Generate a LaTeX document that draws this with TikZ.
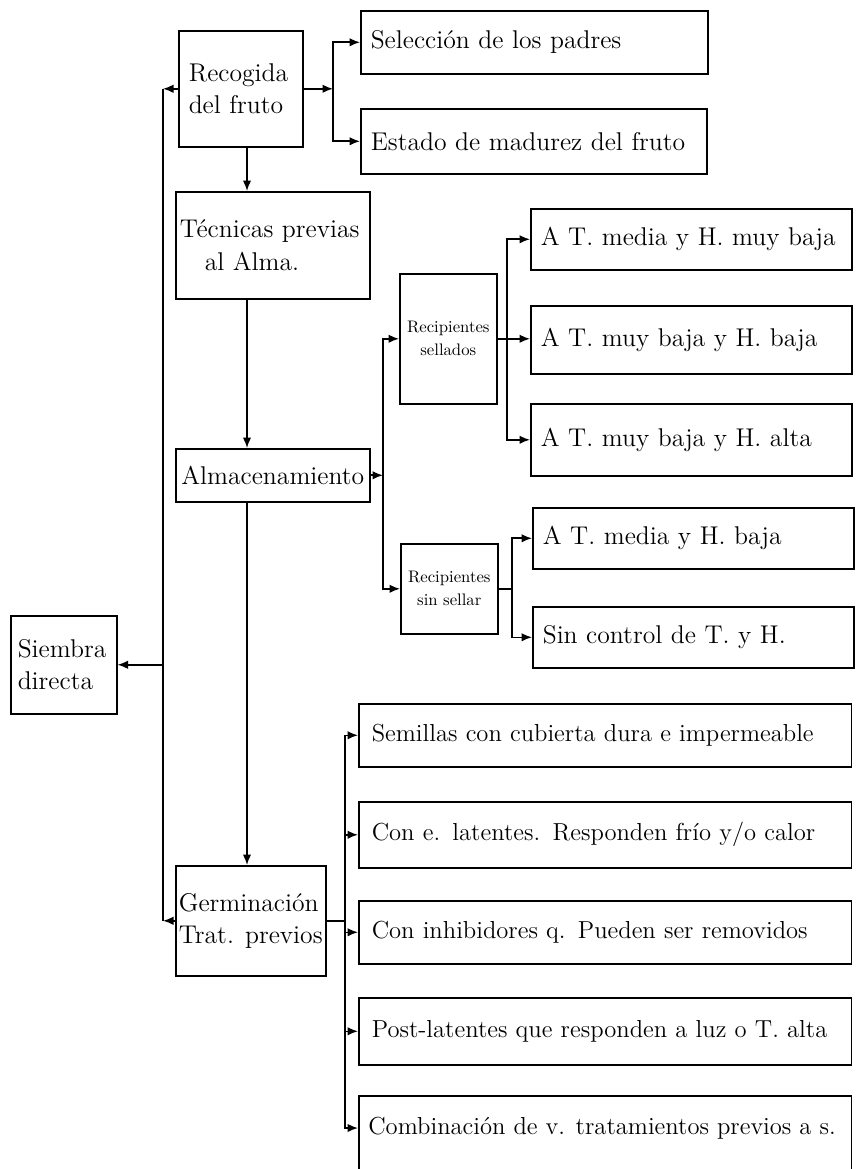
\documentclass[tikz,border=0pt]{standalone}
\usetikzlibrary{arrows.meta}

\newcommand{\boxfont}{\fontsize{14.6}{18.5}\selectfont}
\newcommand{\tratfont}{\fontsize{14}{17}\selectfont}
\newcommand{\recfont}{\fontsize{9.5}{13}\selectfont}

\tikzset{
  box/.style={draw, line width=0.9pt, anchor=north west, inner xsep=0.2cm, inner ysep=0pt, align=left, font=\boxfont},
  smallbox/.style={box, align=center, font=\recfont},
  tratbox/.style={box, minimum width=9.86cm, text width=9.34cm, inner xsep=0.26cm, font=\tratfont},
  arr/.style={-{Latex[length=2.1mm,width=1.7mm]}, line width=0.9pt},
  ln/.style={line width=0.9pt},
}

\begin{document}
\begin{tikzpicture}[x=0.02cm, y=-0.02cm]
  \useasboundingbox (0,0) rectangle (860,1169);

  % main column
  \node[box, minimum width=2.48cm, minimum height=2.32cm, text width=2.08cm] (rec) at (178,30) {Recogida\\del fruto};
  \node[box, minimum width=3.88cm, minimum height=2.14cm, text width=3.72cm, inner xsep=0.08cm] (tec) at (175,191) {T\'ecnicas previas\\\hspace*{0.5cm}al Alma.};
  \node[box, minimum width=3.88cm, minimum height=1.06cm, align=center, inner xsep=0.05cm] (alma) at (175,448) {Almacenamiento};
  \node[box, minimum width=3.0cm, minimum height=2.2cm, inner xsep=0.02cm] (germ) at (175,865) {Germinaci\'on\\Trat. previos};
  \node[box, minimum width=2.12cm, minimum height=1.96cm, text width=1.84cm, inner xsep=0.14cm] (siem) at (10,615) {Siembra\\directa};

  % recogida
  \node[box, minimum width=6.94cm, minimum height=1.26cm, text width=6.54cm] (padres) at (360,10) {Selecci\'on de los padres};
  \node[box, minimum width=6.92cm, minimum height=1.3cm, text width=6.52cm] (madurez) at (360,108) {Estado de madurez del fruto};

  % almacenamiento
  \node[smallbox, minimum width=1.94cm, minimum height=2.6cm, inner xsep=0.02cm] (sellados) at (399,273) {Recipientes\\sellados};
  \node[smallbox, minimum width=1.94cm, minimum height=1.8cm, inner xsep=0.02cm] (sinsellar) at (400,543) {Recipientes\\sin sellar};
  \node[box, minimum width=6.42cm, minimum height=1.22cm, text width=6.02cm] (tmhmb) at (530,208) {A T. media y H. muy baja};
  \node[box, minimum width=6.42cm, minimum height=1.36cm, text width=6.02cm] (tmbhb) at (530,305) {A T. muy baja y H. baja};
  \node[box, minimum width=6.42cm, minimum height=1.44cm, text width=6.02cm] (tmbha) at (530,403) {A T. muy baja y H. alta};
  \node[box, minimum width=6.42cm, minimum height=1.22cm, text width=6.02cm] (tmhb) at (532,507) {A T. media y H. baja};
  \node[box, minimum width=6.42cm, minimum height=1.22cm, text width=6.02cm] (sinctrl) at (532,606) {Sin control de T. y H.};

  % germinacion
  \node[tratbox, minimum height=1.26cm] (cubierta) at (358,703) {Semillas con cubierta dura e impermeable};
  \node[tratbox, minimum height=1.32cm] (latentes) at (358,801) {Con e. latentes. Responden fr\'io y/o calor};
  \node[tratbox, minimum height=1.26cm] (inhib) at (358,900) {Con inhibidores q. Pueden ser removidos};
  \node[tratbox, minimum height=1.34cm] (postlat) at (358,997) {Post-latentes que responden a luz o T. alta};
  \node[box, minimum width=9.86cm, minimum height=1.9cm] (combi) at (358,1095) {};
  \node[anchor=west, font=\tratfont, inner sep=0pt] (combitxt) at (368,1128) {Combinaci\'on de v. tratamientos previos a s.};

  % bus lines
  \coordinate (vm) at (247,0);
  \coordinate (lb) at (163,0);
  \coordinate (tb) at (333,0);
  \coordinate (ab) at (383,0);
  \coordinate (sb) at (507,0);
  \coordinate (nb) at (512,0);
  \coordinate (gb) at (345,0);

  \draw[arr] (vm |- rec.south) -- (vm |- tec.north);
  \draw[arr] (vm |- tec.south) -- (vm |- alma.north);
  \draw[arr] (vm |- alma.south) -- (vm |- germ.north);

  \draw[arr] (rec.west) -- (lb |- rec.west);
  \draw[arr] (germ.west) -- (lb |- germ.west);
  \draw[ln] (lb |- rec.west) -- (lb |- germ.west);
  \draw[arr] (lb |- siem.east) -- (siem.east);

  \draw[arr] (rec.east) -- (tb |- rec.east);
  \draw[arr] (tb |- rec.east) |- (padres.west);
  \draw[arr] (tb |- rec.east) |- (madurez.west);

  \draw[arr] (alma.east) -- (ab |- alma.east);
  \draw[arr] (ab |- alma.east) |- (sellados.west);
  \draw[arr] (ab |- alma.east) |- (sinsellar.west);

  \draw[arr] (sellados.east) -- (sellados.east -| tmbhb.west);
  \draw[arr] (sb |- sellados.east) |- (tmhmb.west);
  \draw[arr] (sb |- sellados.east) |- (tmbha.west);

  \draw[ln] (sinsellar.east) -- (nb |- sinsellar.east);
  \draw[arr] (nb |- sinsellar.east) |- (tmhb.west);
  \draw[arr] (nb |- sinsellar.east) |- (sinctrl.west);

  \draw[ln] (germ.east) -- (gb |- germ.east);
  \draw[arr] (gb |- germ.east) |- (cubierta.west);
  \draw[arr] (gb |- germ.east) |- (latentes.west);
  \draw[arr] (gb |- germ.east) |- (inhib.west);
  \draw[arr] (gb |- germ.east) |- (postlat.west);
  \draw[arr] (gb |- germ.east) |- (combi.west |- combitxt);
\end{tikzpicture}
\end{document}
